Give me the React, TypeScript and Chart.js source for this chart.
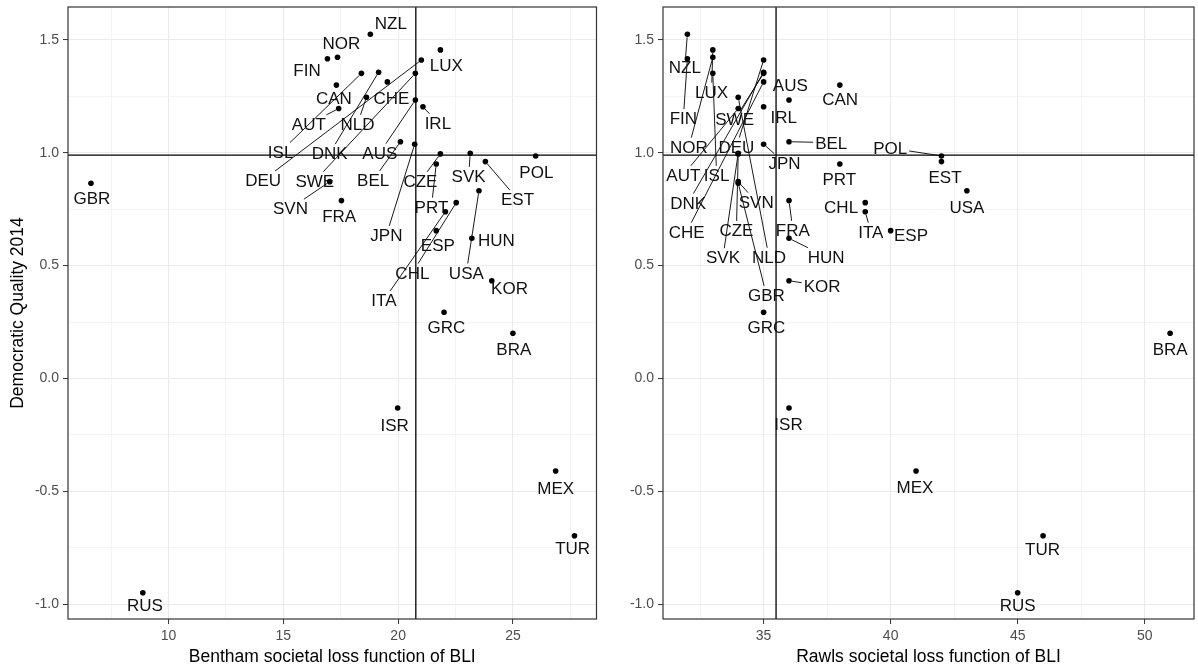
import React, { useEffect, useRef } from "react";
import { Chart, registerables } from "chart.js";

Chart.register(...registerables);

// ---------------- data ----------------
const countries = [
  "NZL", "NOR", "FIN", "LUX", "CAN", "CHE", "AUT", "NLD", "IRL", "ISL", "DNK", "AUS",
  "DEU", "SWE", "BEL", "CZE", "SVK", "POL", "SVN", "FRA", "EST", "PRT", "JPN", "ESP",
  "HUN", "CHL", "USA", "ITA", "KOR", "GRC", "BRA", "GBR", "ISR", "MEX", "TUR", "RUS",
];

const democraticQuality = [
  1.525, 1.423, 1.417, 1.456, 1.3, 1.314, 1.196, 1.246, 1.204, 1.352, 1.357, 1.234,
  1.411, 1.352, 1.049, 0.995, 0.998, 0.986, 0.872, 0.788, 0.961, 0.95, 1.038, 0.655,
  0.621, 0.779, 0.832, 0.739, 0.433, 0.293, 0.2, 0.865, -0.131, -0.41, -0.697, -0.95,
];

const benthamLoss = [
  18.79, 17.36, 16.92, 21.84, 17.31, 19.53, 17.41, 18.62, 21.08, 18.4, 19.15, 20.75,
  21.01, 20.75, 20.1, 21.84, 23.14, 25.99, 17.02, 17.53, 23.8, 21.66, 20.72, 21.66,
  23.21, 22.53, 23.52, 22.06, 24.08, 22.0, 25.0, 6.62, 19.98, 26.86, 27.68, 8.88,
];

const rawlsLoss = [
  32, 33, 32, 33, 38, 35, 34, 34, 35, 33, 35, 36,
  35, 35, 36, 34, 34, 42, 34, 36, 42, 38, 35, 40,
  36, 39, 43, 39, 36, 35, 51, 34, 36, 41, 46, 45,
];

// label anchors (data units) as placed by the repel layout
const benthamLabelX = [
  19.68, 17.53, 16.03, 22.1, 17.2, 19.71, 16.11, 18.23, 21.73, 14.88, 17.02, 19.2,
  14.12, 16.37, 18.91, 20.97, 23.07, 26.02, 15.31, 17.43, 25.2, 21.45, 19.49, 21.73,
  24.28, 20.62, 22.97, 19.38, 24.85, 22.1, 25.04, 6.66, 19.85, 26.86, 27.6, 8.97,
];
const benthamLabelY = [
  1.574, 1.488, 1.367, 1.389, 1.242, 1.242, 1.128, 1.128, 1.133, 1.005, 0.998, 1.0,
  0.879, 0.876, 0.879, 0.875, 0.897, 0.916, 0.754, 0.72, 0.795, 0.761, 0.636, 0.591,
  0.613, 0.469, 0.469, 0.348, 0.399, 0.227, 0.132, 0.8, -0.207, -0.486, -0.752, -1.004,
];
const rawlsLabelX = [
  31.9, 32.06, 31.84, 32.95, 38.01, 31.97, 31.84, 35.21, 35.79, 33.15, 32.03, 36.05,
  33.93, 33.86, 37.66, 33.93, 33.4, 39.98, 34.71, 36.15, 42.14, 37.98, 35.82, 40.8,
  37.46, 38.05, 43.0, 39.22, 37.3, 35.11, 51.0, 35.11, 35.98, 40.96, 45.98, 45.0,
];
const rawlsLabelY = [
  1.382, 1.027, 1.153, 1.271, 1.237, 0.65, 0.902, 0.539, 1.16, 0.902, 0.779, 1.301,
  1.027, 1.148, 1.045, 0.658, 0.537, 1.021, 0.783, 0.658, 0.893, 0.883, 0.956, 0.636,
  0.539, 0.758, 0.76, 0.65, 0.41, 0.229, 0.13, 0.37, -0.202, -0.481, -0.756, -1.004,
];

const meanDemocraticQuality = 0.99;
const meanBentham = 20.77;
const meanRawls = 35.49;

const yMajorTicks = [-1.0, -0.5, 0.0, 0.5, 1.0, 1.5];
const benthamMajorTicks = [10, 15, 20, 25];
const rawlsMajorTicks = [35, 40, 45, 50];

const yRange = [-1.066, 1.646];
const benthamRange = [5.62, 28.64];
const rawlsRange = [31.04, 51.94];

const yTitle = "Democratic Quality 2014";
const benthamTitle = "Bentham societal loss function of BLI";
const rawlsTitle = "Rawls societal loss function of BLI";

// ---------------- helpers ----------------
const FAMILY = "'Liberation Sans', Arial, Helvetica, sans-serif";
const LABEL_SIZE = 17;

function tickList(majors: number[], min: number, max: number) {
  const step = majors[1] - majors[0];
  const out: number[] = [];
  for (let v = majors[0] - step; v <= majors[majors.length - 1] + step + 1e-9; v += step / 2) {
    const r = Math.round(v * 1000) / 1000;
    if (r >= min && r <= max) out.push(r);
  }
  return out;
}
const isMajor = (majors: number[], v: number) => majors.some((m) => Math.abs(m - v) < 1e-6);

type PanelProps = {
  xs: number[];
  labX: number[];
  labY: number[];
  xRange: number[];
  xMajors: number[];
  xTitle: string;
  showYTitle: boolean;
  vLine: number;
  left: number;
  width: number;
  yAxisWidth: number;
  padRight: number;
};

function Panel(p: PanelProps) {
  const ref = useRef<HTMLCanvasElement | null>(null);

  useEffect(() => {
    const canvas = ref.current;
    if (!canvas) return;
    const xTicks = tickList(p.xMajors, p.xRange[0], p.xRange[1]);
    const yTicks = tickList(yMajorTicks, yRange[0], yRange[1]);

    const annot = {
      id: "annot",
      beforeDatasetsDraw(chart: any) {
        const { ctx, chartArea: a, scales } = chart;
        const x = scales.x, y = scales.y;
        ctx.save();
        ctx.strokeStyle = "#000";
        ctx.lineWidth = 1.3;
        const yh = y.getPixelForValue(meanDemocraticQuality);
        ctx.beginPath();
        ctx.moveTo(a.left, yh);
        ctx.lineTo(a.right, yh);
        ctx.stroke();
        const xv = x.getPixelForValue(p.vLine);
        ctx.beginPath();
        ctx.moveTo(xv, a.top);
        ctx.lineTo(xv, a.bottom);
        ctx.stroke();
        ctx.restore();
      },
      afterDatasetsDraw(chart: any) {
        const { ctx, scales } = chart;
        const x = scales.x, y = scales.y;
        ctx.save();
        ctx.font = `${LABEL_SIZE}px ${FAMILY}`;
        const cap = LABEL_SIZE * 0.716;
        // segments
        ctx.strokeStyle = "#000";
        ctx.lineWidth = 0.9;
        for (let i = 0; i < countries.length; i++) {
          const px = x.getPixelForValue(p.xs[i]);
          const py = y.getPixelForValue(democraticQuality[i]);
          const lx = x.getPixelForValue(p.labX[i]);
          const ly = y.getPixelForValue(p.labY[i]);
          const w = ctx.measureText(countries[i]).width;
          const hw = w / 2 + 2;
          const hh = cap / 2 + 3;
          const dx = px - lx, dy = py - ly;
          const tx = dx !== 0 ? hw / Math.abs(dx) : Infinity;
          const ty = dy !== 0 ? hh / Math.abs(dy) : Infinity;
          const t = Math.min(tx, ty);
          if (t >= 1) continue;
          const sx = lx + dx * t, sy = ly + dy * t;
          const len = Math.hypot(px - sx, py - sy);
          const pad = 3;
          if (len - pad < 6) continue;
          const ex = px - ((px - sx) / len) * pad;
          const ey = py - ((py - sy) / len) * pad;
          ctx.beginPath();
          ctx.moveTo(sx, sy);
          ctx.lineTo(ex, ey);
          ctx.stroke();
        }
        // text
        ctx.fillStyle = "#111";
        ctx.textAlign = "center";
        ctx.textBaseline = "alphabetic";
        for (let i = 0; i < countries.length; i++) {
          const lx = x.getPixelForValue(p.labX[i]);
          const ly = y.getPixelForValue(p.labY[i]);
          ctx.fillText(countries[i], lx, ly + cap / 2);
        }
        ctx.restore();
      },
      afterDraw(chart: any) {
        const { ctx, chartArea: a } = chart;
        ctx.save();
        ctx.strokeStyle = "#333";
        ctx.lineWidth = 1.2;
        ctx.strokeRect(a.left, a.top, a.right - a.left, a.bottom - a.top);
        ctx.restore();
      },
    };

    const gridFor = (majors: number[]) => ({
      color: "#EBEBEB",
      lineWidth: (c: any) => (c.tick && isMajor(majors, c.tick.value) ? 1.1 : 0.55),
      drawTicks: true,
      tickLength: 5,
      tickWidth: 1,
      tickColor: (c: any) => (c.tick && isMajor(majors, c.tick.value) ? "#333" : "rgba(0,0,0,0)"),
    });

    const chart = new Chart(canvas, {
      type: "scatter",
      data: {
        datasets: [
          {
            data: p.xs.map((v, i) => ({ x: v, y: democraticQuality[i] })),
            backgroundColor: "#000",
            borderWidth: 0,
            pointRadius: 2.8,
          },
        ],
      },
      options: {
        animation: false,
        responsive: false,
        devicePixelRatio: 1,
        layout: { padding: { left: 0, right: p.padRight, top: 7, bottom: 0 } },
        plugins: { legend: { display: false }, tooltip: { enabled: false } },
        scales: {
          x: {
            type: "linear",
            min: p.xRange[0],
            max: p.xRange[1],
            afterBuildTicks: (s: any) => {
              s.ticks = xTicks.map((v) => ({ value: v }));
            },
            afterFit: (s: any) => {
              s.height = 50;
              s.paddingLeft = 0;
              s.paddingRight = 0;
            },
            grid: gridFor(p.xMajors),
            border: { display: false },
            ticks: {
              autoSkip: false,
              maxRotation: 0,
              padding: 4,
              color: "#4D4D4D",
              font: { family: FAMILY, size: 14 },
              callback: (v: any) => (isMajor(p.xMajors, Number(v)) ? String(v) : ""),
            },
            title: {
              display: true,
              text: p.xTitle,
              color: "#000",
              font: { family: FAMILY, size: 17.5 },
              padding: { top: 0, bottom: 1 },
            },
          },
          y: {
            type: "linear",
            min: yRange[0],
            max: yRange[1],
            afterBuildTicks: (s: any) => {
              s.ticks = yTicks.map((v) => ({ value: v }));
            },
            afterFit: (s: any) => {
              s.width = p.yAxisWidth;
              s.paddingTop = 0;
              s.paddingBottom = 0;
            },
            grid: gridFor(yMajorTicks),
            border: { display: false },
            ticks: {
              autoSkip: false,
              padding: 4,
              color: "#4D4D4D",
              font: { family: FAMILY, size: 14 },
              callback: (v: any) => (isMajor(yMajorTicks, Number(v)) ? Number(v).toFixed(1) : ""),
            },
            title: {
              display: p.showYTitle,
              text: yTitle,
              color: "#000",
              font: { family: FAMILY, size: 17.5 },
              padding: { top: 8, bottom: 0 },
            },
          },
        },
      },
      plugins: [annot],
    } as any);

    return () => chart.destroy();
  }, []);

  return (
    <canvas
      ref={ref}
      width={p.width}
      height={669}
      style={{ position: "absolute", left: p.left, top: 0, width: p.width, height: 669 }}
    />
  );
}

export default function App() {
  return (
    <div style={{ position: "fixed", left: 0, top: 0, width: 1198, height: 669, background: "#fff" }}>
      <Panel
        xs={benthamLoss}
        labX={benthamLabelX}
        labY={benthamLabelY}
        xRange={benthamRange}
        xMajors={benthamMajorTicks}
        xTitle={benthamTitle}
        showYTitle={true}
        vLine={meanBentham}
        left={0}
        width={605}
        yAxisWidth={68}
        padRight={8.5}
      />
      <Panel
        xs={rawlsLoss}
        labX={rawlsLabelX}
        labY={rawlsLabelY}
        xRange={rawlsRange}
        xMajors={rawlsMajorTicks}
        xTitle={rawlsTitle}
        showYTitle={false}
        vLine={meanRawls}
        left={605}
        width={593}
        yAxisWidth={58}
        padRight={2.5}
      />
    </div>
  );
}
